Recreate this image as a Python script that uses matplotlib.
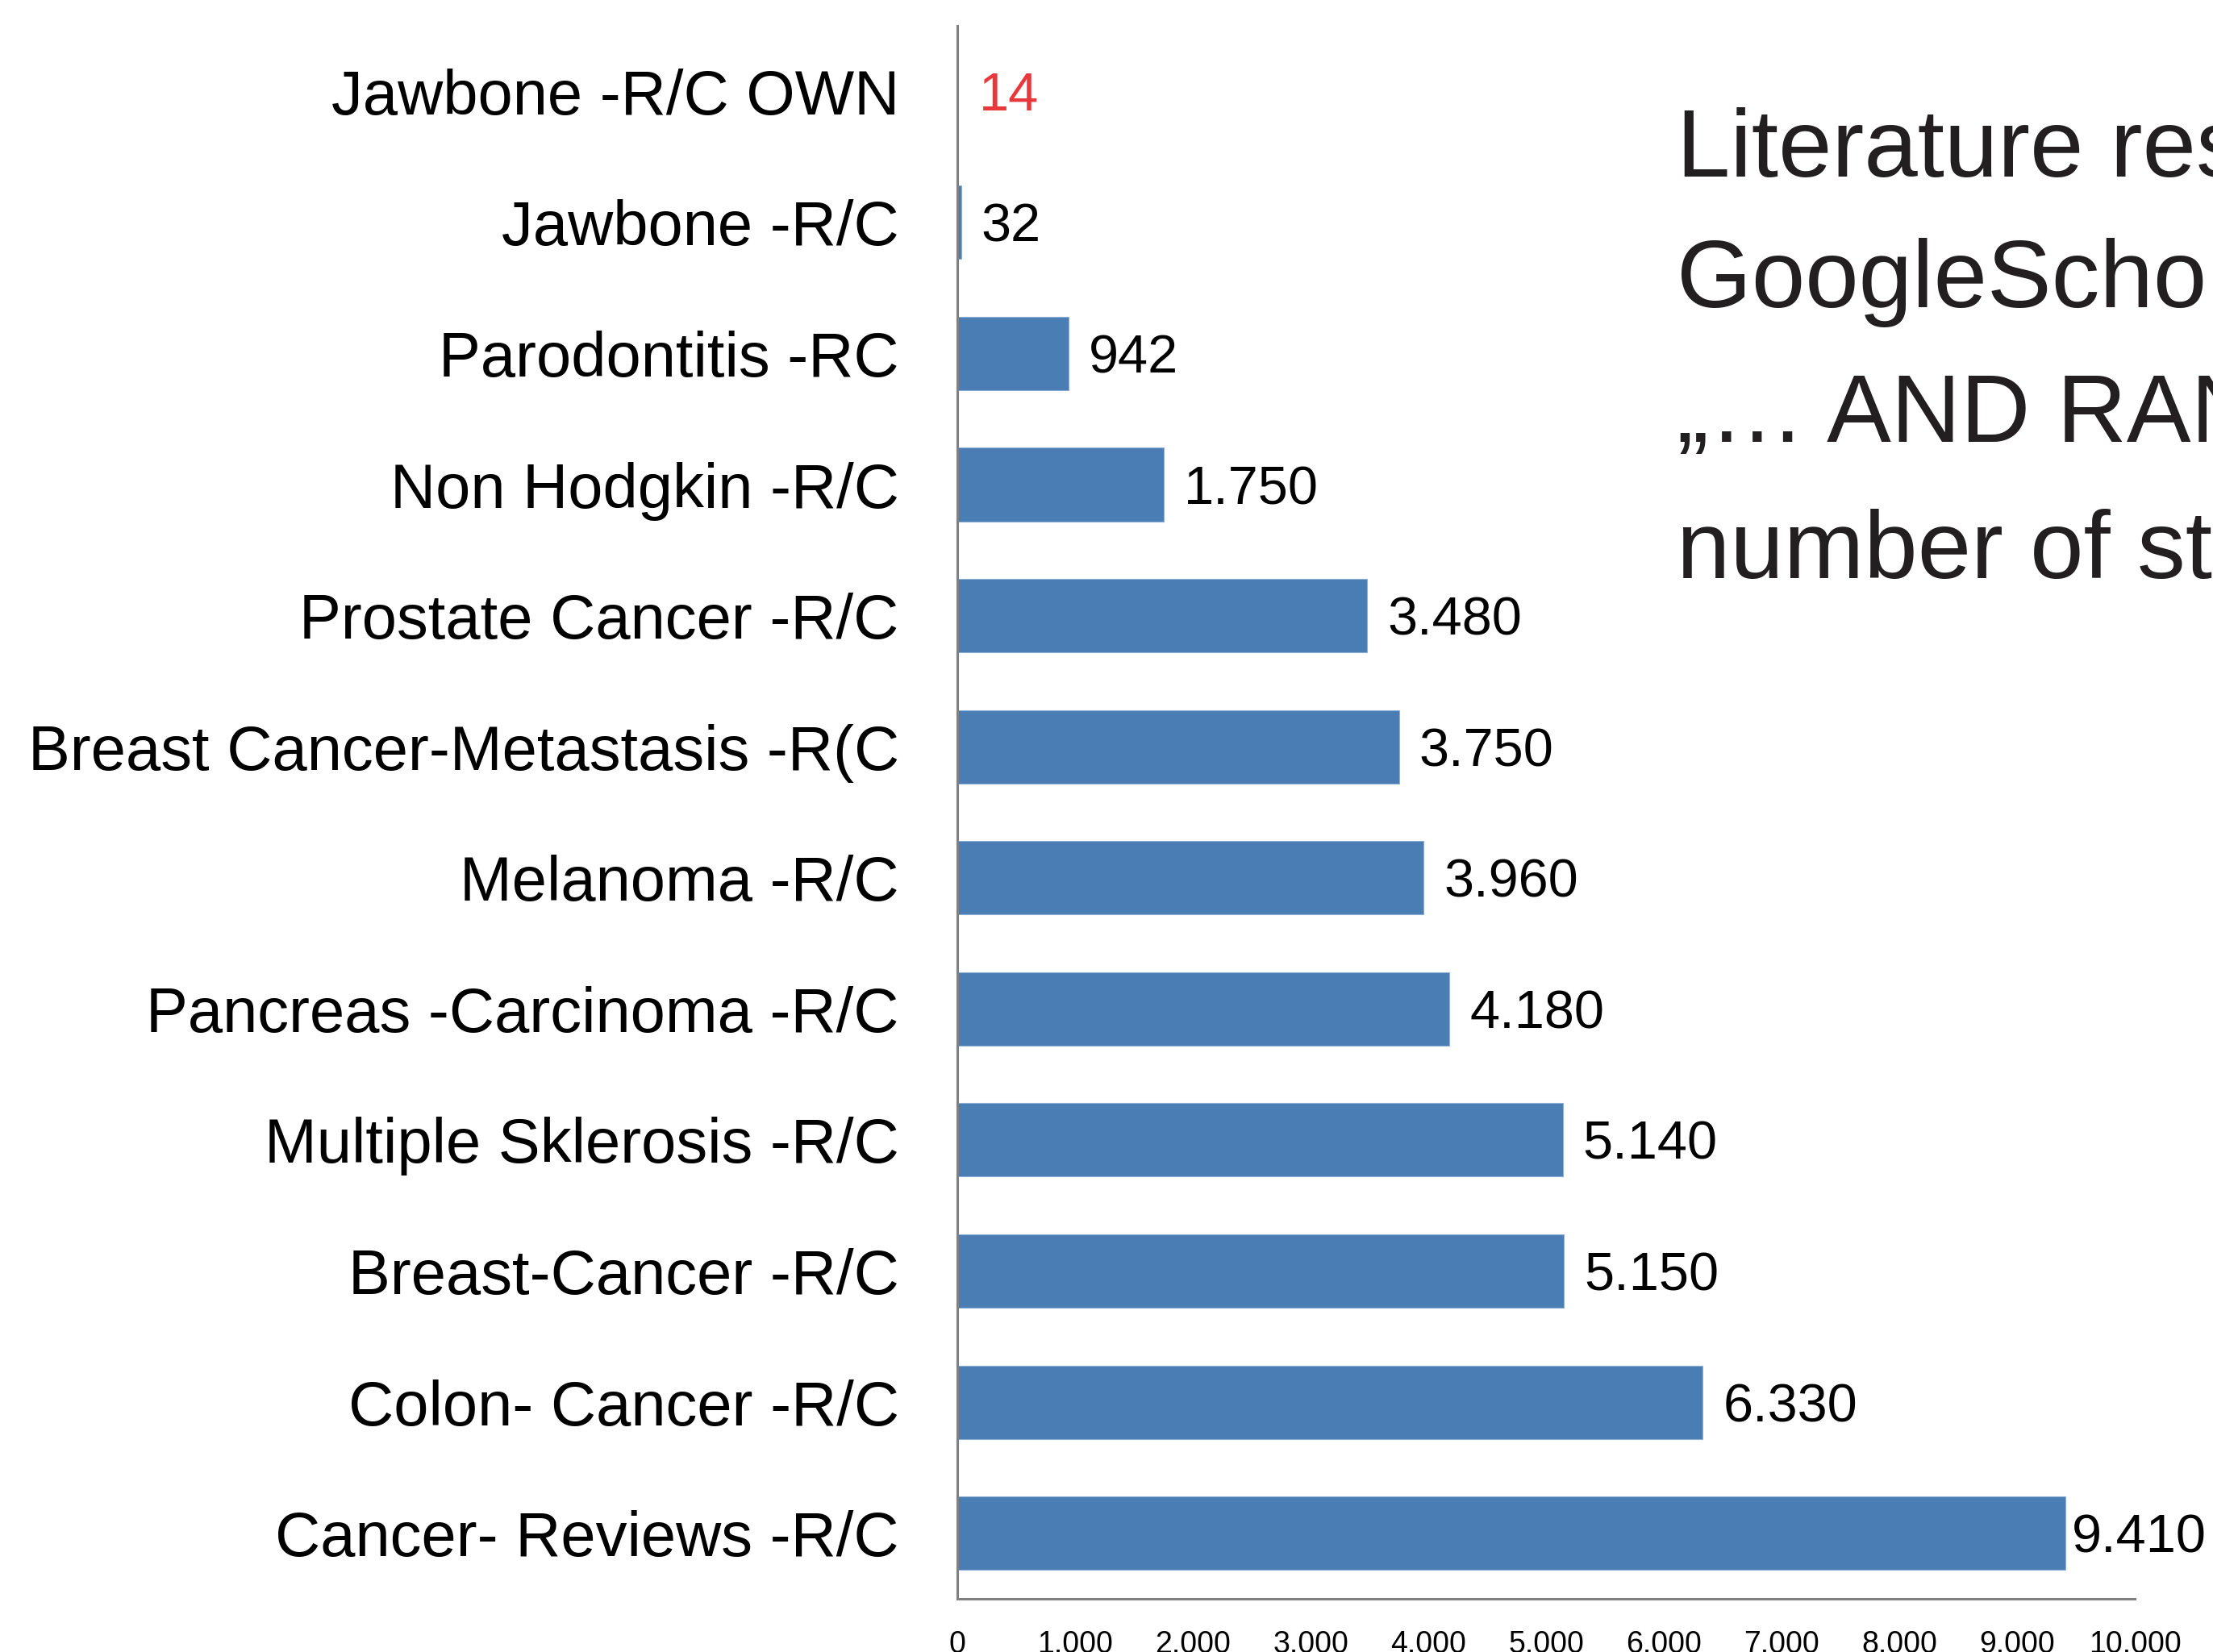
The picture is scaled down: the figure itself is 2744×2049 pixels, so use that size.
import matplotlib
matplotlib.use("Agg")
import matplotlib.pyplot as plt

plt.rcParams['font.family'] = ['Liberation Sans', 'DejaVu Sans']

# Datos (de arriba hacia abajo)
categorias = [
    "Jawbone -R/C OWN",
    "Jawbone -R/C",
    "Parodontitis -RC",
    "Non Hodgkin -R/C",
    "Prostate Cancer -R/C",
    "Breast Cancer-Metastasis -R(C",
    "Melanoma -R/C",
    "Pancreas -Carcinoma -R/C",
    "Multiple Sklerosis -R/C",
    "Breast-Cancer -R/C",
    "Colon- Cancer -R/C",
    "Cancer- Reviews -R/C",
]
estudios = [14, 32, 942, 1750, 3480, 3750, 3960, 4180, 5140, 5150, 6330, 9410]
ticks_x = [0, 1000, 2000, 3000, 4000, 5000, 6000, 7000, 8000, 9000, 10000]
titulo = [
    "Literature research",
    "GoogleScholar",
    "\u201e\u2026 AND RANDOMIZED",
    "number of studies",
]

azul = "#4a7db4"
rojo = "#e8383b"


def fmt(v):
    return f"{v:,}".replace(",", ".")


fig = plt.figure(figsize=(13.72, 10.245), dpi=200)
ax = fig.add_axes([0.4326, 0.0322, 0.9647 - 0.4326, 0.9844 - 0.0322])

pos = list(range(len(categorias)))
# la primera barra (propia) no se dibuja, solo su etiqueta
valores_barras = [0] + estudios[1:]
ax.barh(pos, valores_barras, height=0.56, color=azul, edgecolor="#8fb0d6", linewidth=0.4)

for i, v in enumerate(estudios):
    color = rojo if i == 0 else "black"
    pad = 3 if v > 9000 else 9  # la última etiqueta va más pegada a la barra
    ax.annotate(fmt(v), xy=(v, i), xytext=(pad, 0), textcoords="offset points",
                ha="left", va="center_baseline", fontsize=24, color=color)

ax.set_yticks(pos)
ax.set_yticklabels(categorias, fontsize=28)
ax.set_ylim(len(categorias) - 0.5, -0.5)

ax.set_xlim(0, 10000)
ax.set_xticks(ticks_x)
ax.set_xticklabels([fmt(t) for t in ticks_x], fontsize=13.5)

ax.tick_params(axis="y", length=0, pad=26)
ax.tick_params(axis="x", length=0, pad=14)

for lado in ["top", "right"]:
    ax.spines[lado].set_visible(False)
for lado in ["left", "bottom"]:
    ax.spines[lado].set_color("#808080")
    ax.spines[lado].set_linewidth(1.1)

# Texto de la derecha (cortado por el borde como en el original)
ys = [0.8931, 0.8141, 0.7326, 0.650]
for linea, y in zip(titulo, ys):
    fig.text(0.7577, y, linea, fontsize=43, color="#231f20", va="baseline", ha="left")

fig.savefig("out.png", dpi=200)
